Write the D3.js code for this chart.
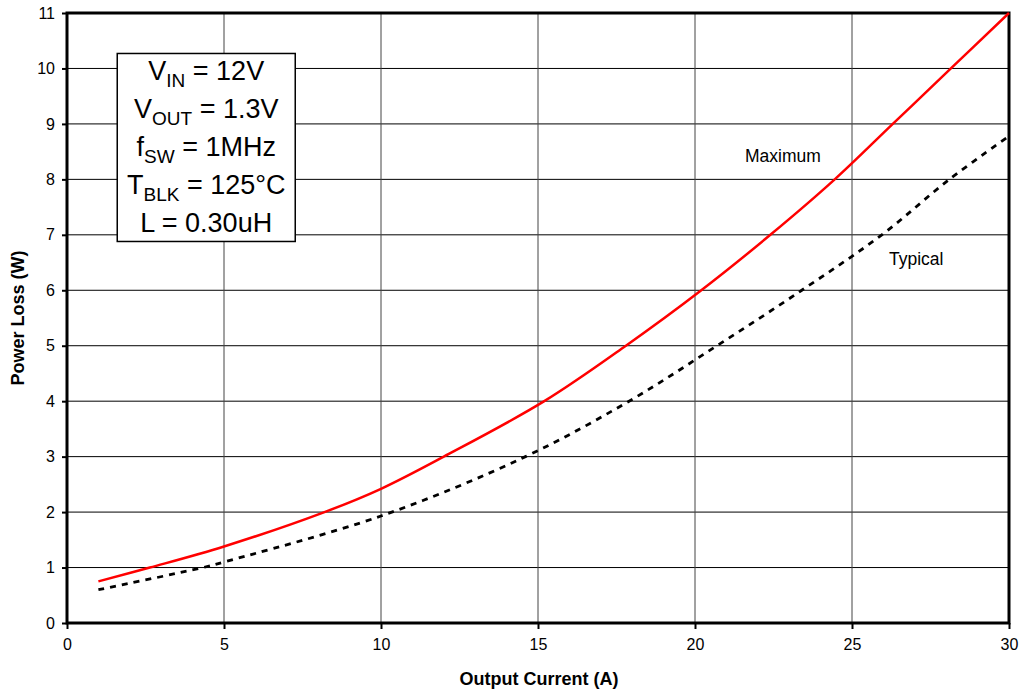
<!DOCTYPE html>
<html>
<head>
<meta charset="utf-8">
<script src="https://cdn.jsdelivr.net/npm/d3@7"></script>
<style>
  body { margin: 0; background: #fff; }
  text { font-family: "Liberation Sans", Arial, sans-serif; }
</style>
</head>
<body>
<div id="G"></div>
<script>
// values
var current = [1, 2.64, 5, 8.2, 10, 12.0, 15.2, 17.8, 20.2, 22.4, 24.45, 26.3, 28.15, 30];
var maxLoss = [0.75, 1.0, 1.38, 2.0, 2.42, 3.0, 4.0, 5.0, 6.0, 7.0, 8.0, 9.0, 10.0, 11.0];
var typCurrent = [1, 4.33, 5, 10, 14.6, 17.9, 20.7, 23.4, 25.95, 28.1, 30];
var typLoss = [0.6, 1.0, 1.1, 1.93, 3.0, 4.0, 5.0, 6.0, 7.0, 8.0, 8.78];
var xTicks = [0, 5, 10, 15, 20, 25, 30];
var yTicks = [0, 1, 2, 3, 4, 5, 6, 7, 8, 9, 10, 11];
var notes = [["V", "IN", " = 12V"], ["V", "OUT", " = 1.3V"], ["f", "SW", " = 1MHz"], ["T", "BLK", " = 125°C"], ["L", "", " = 0.30uH"]];

var Border = { top: 13, right: 12, bottom: 69, left: 67 },
  width = 1021 - Border.left - Border.right,
  height = 692 - Border.top - Border.bottom;

var svg = d3.select("#G")
  .append("svg")
  .attr("width", 1021)
  .attr("height", 692)
  .append("g")
  .attr("transform", "translate(" + Border.left + "," + Border.top + ")");

var x = d3.scaleLinear().domain([0, 30]).range([0, width]);
var y = d3.scaleLinear().domain([0, 11]).range([height, 0]);

// grid
svg.append("g").selectAll("line").data(yTicks.slice(1, -1)).join("line")
  .attr("x1", 0).attr("x2", width)
  .attr("y1", d => y(d)).attr("y2", d => y(d))
  .attr("stroke", "#000").attr("stroke-width", 1);
svg.append("g").selectAll("line").data(xTicks.slice(1, -1)).join("line")
  .attr("y1", 0).attr("y2", height)
  .attr("x1", d => x(d)).attr("x2", d => x(d))
  .attr("stroke", "#444").attr("stroke-width", 1);

// axes
var yAxis = svg.append("g")
  .call(d3.axisLeft(y).tickValues(yTicks).tickSize(5).tickPadding(7));
var xAxis = svg.append("g")
  .attr("transform", "translate(0," + height + ")")
  .call(d3.axisBottom(x).tickValues(xTicks).tickSize(6).tickPadding(10));
[yAxis, xAxis].forEach(function (a) {
  a.select(".domain").remove();
  a.selectAll("line").attr("stroke", "#000").attr("stroke-width", 2);
  a.selectAll("text").attr("font-size", 16).attr("fill", "#000")
    .attr("font-family", "Liberation Sans, Arial, sans-serif");
});

// frame
svg.append("rect")
  .attr("width", width).attr("height", height)
  .attr("fill", "none").attr("stroke", "#000").attr("stroke-width", 3);

// curves
var line = d3.line().curve(d3.curveCatmullRom)
  .x(d => x(d[0])).y(d => y(d[1]));
svg.append("path")
  .datum(d3.zip(typCurrent, typLoss))
  .attr("fill", "none").attr("stroke", "#000").attr("stroke-width", 2.8)
  .attr("stroke-dasharray", "6,6")
  .attr("d", line);
svg.append("path")
  .datum(d3.zip(current, maxLoss))
  .attr("fill", "none").attr("stroke", "#ff0000").attr("stroke-width", 2.5)
  .attr("d", line);

// curve labels
svg.append("text").attr("x", 745 - Border.left).attr("y", 162 - Border.top)
  .attr("font-size", 17.5).text("Maximum");
svg.append("text").attr("x", 889 - Border.left).attr("y", 265 - Border.top)
  .attr("font-size", 17.5).text("Typical");

// conditions box
var box = svg.append("g").attr("transform", "translate(" + (x(1.6)) + "," + (y(10.27)) + ")");
box.append("rect").attr("width", 178).attr("height", 188)
  .attr("fill", "#fff").attr("stroke", "#000").attr("stroke-width", 1.5);
notes.forEach(function (n, i) {
  var t = box.append("text").attr("x", 89).attr("y", 27 + i * 38)
    .attr("text-anchor", "middle").attr("font-size", 27);
  t.append("tspan").text(n[0]);
  if (n[1]) t.append("tspan").attr("font-size", 19).attr("dy", 7).text(n[1]);
  t.append("tspan").attr("dy", n[1] ? -7 : 0).text(n[2]);
});

// axis titles
svg.append("text")
  .attr("x", 539 - Border.left).attr("y", height + 62)
  .attr("text-anchor", "middle").attr("font-size", 18).attr("font-weight", "bold")
  .text("Output Current (A)");
svg.append("text")
  .attr("transform", "translate(" + (24 - Border.left) + "," + (318 - Border.top) + ") rotate(-90)")
  .attr("text-anchor", "middle").attr("font-size", 18).attr("font-weight", "bold")
  .text("Power Loss (W)");
</script>
</body>
</html>
